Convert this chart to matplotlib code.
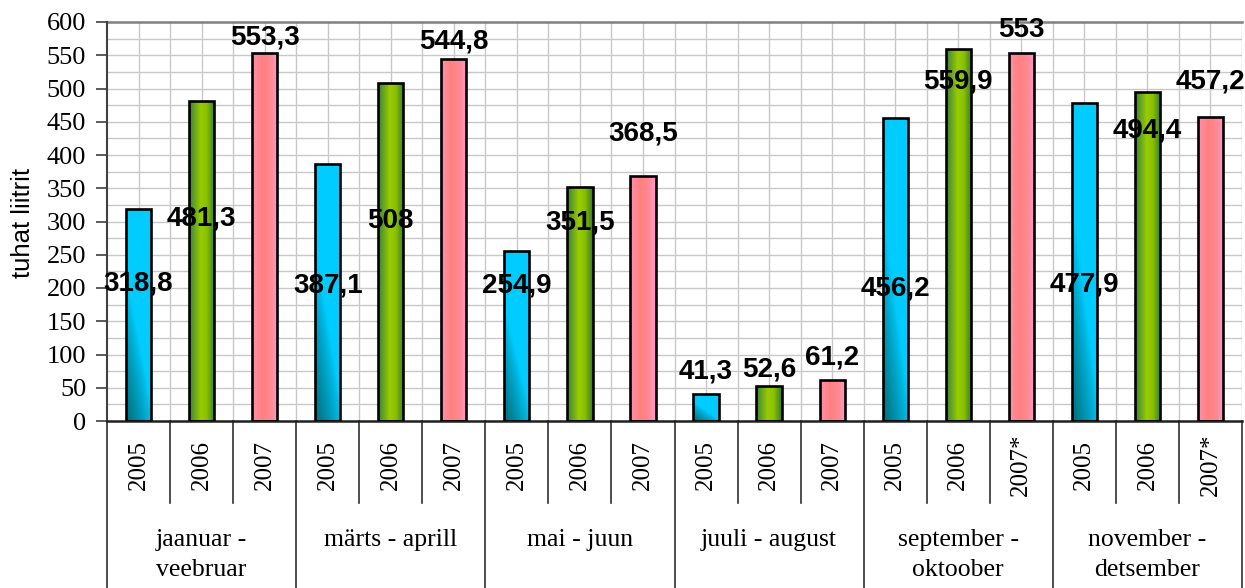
import numpy as np
import matplotlib
matplotlib.use("Agg")
import matplotlib.pyplot as plt
from matplotlib.colors import to_rgb
from matplotlib.transforms import blended_transform_factory

# ---------------- data ----------------
groups = ["jaanuar -\nveebruar", "märts - aprill", "mai - juun",
          "juuli - august", "september -\noktoober", "november -\ndetsember"]
year_labels = ["2005", "2006", "2007", "2005", "2006", "2007",
               "2005", "2006", "2007", "2005", "2006", "2007",
               "2005", "2006", "2007*", "2005", "2006", "2007*"]
values_2005 = [318.8, 387.1, 254.9, 41.3, 456.2, 477.9]
values_2006 = [481.3, 508.0, 351.5, 52.6, 559.9, 494.4]
values_2007 = [553.3, 544.8, 368.5, 61.2, 553.0, 457.2]
# vertical centre of each data label (value units), as placed in the original
label_y_2005 = [207, 204, 204, 74, 199, 205]
label_y_2006 = [305, 301, 299, 78, 510, 437]
label_y_2007 = [576, 570, 433, 96, 588, 510]
y_ticks = list(range(0, 601, 50))

SERIF = "Liberation Serif"
SANS = "Liberation Sans"

fig = plt.figure(figsize=(12.45, 5.88), dpi=100)
ax = fig.add_axes([107/1245, 1-421/588, (1242-107)/1245, 399/588])

n_groups = len(groups)
series = [values_2005, values_2006, values_2007]
label_ys = [label_y_2005, label_y_2006, label_y_2007]
n_cat = n_groups * 3

ax.set_xlim(-0.5, n_cat - 0.5)
ax.set_ylim(0, 600)

# grid
for yv in np.arange(25, 600, 25):
    ax.axhline(yv, color="#c8c8c8", lw=1.0, zorder=0)
for xv in np.arange(0, n_cat, 0.5):
    ax.axvline(xv, color="#c8c8c8", lw=1.0, zorder=0)
ax.axhline(600, color="#808080", lw=1.8, zorder=1, clip_on=False)

def interp_cols(stops, u):
    pos = np.array([s[0] for s in stops])
    cols = np.array([to_rgb(s[1]) for s in stops])
    out = np.zeros(u.shape + (3,))
    for c in range(3):
        out[..., c] = np.interp(u, pos, cols[:, c])
    return out

N = 80
uu, vv = np.meshgrid(np.linspace(0, 1, N), np.linspace(0, 1, N))

def grad_cyan():
    dark = np.clip(1.1 - (uu + 1.6 * vv), 0, 1) ** 0.8
    teal = np.array(to_rgb("#007484"))
    cyan = np.array(to_rgb("#00ccff"))
    return cyan * (1 - dark[..., None]) + teal * dark[..., None]

def grad_green():
    return interp_cols([(0, "#3a8040"), (0.45, "#99cc00"), (0.7, "#88c000"), (1, "#347a30")], uu)

def grad_pink():
    return interp_cols([(0, "#ff90ac"), (0.4, "#ff8080"), (0.7, "#ff8890"), (1, "#ff99cc")], uu)

grads = [grad_cyan(), grad_green(), grad_pink()]

for s in range(3):
    xs = [g * 3 + s for g in range(n_groups)]
    bars = ax.bar(xs, series[s], width=0.4, facecolor="none",
                  edgecolor="black", linewidth=1.9, zorder=3)
    for b in bars:
        x0 = b.get_x()
        w = b.get_width()
        h = b.get_height()
        im = ax.imshow(grads[s], extent=(x0, x0 + w, 0, h), origin="lower",
                       aspect="auto", zorder=2, interpolation="bilinear")
        im.set_clip_path(b)
    for g in range(n_groups):
        v = series[s][g]
        txt = f"{v:g}".replace(".", ",")
        ax.text(xs[g], label_ys[s][g], txt, ha="center", va="center",
                fontsize=20, fontweight="bold", family=SANS, zorder=5)

ax.set_xlim(-0.5, n_cat - 0.5)
ax.set_ylim(0, 600)

# axes styling
ax.set_xticks([])
ax.set_yticks(y_ticks)
ax.set_yticklabels([str(t) for t in y_ticks], family=SERIF, fontsize=19)
ax.tick_params(axis="y", direction="out", length=8, width=1.2, color="#404040", pad=7)
ax.spines["right"].set_visible(False)
ax.spines["top"].set_visible(False)
ax.spines["left"].set_color("#404040")
ax.spines["left"].set_linewidth(1.5)
ax.spines["bottom"].set_color("#202020")
ax.spines["bottom"].set_linewidth(1.8)
ax.set_ylabel("tuhat liitrit", family=SANS, fontsize=18.5)
ax.yaxis.set_label_coords((23 - 107) / 1135, 0.496)
ax.yaxis.label.set_va("center")

# category table below the axis
trans = blended_transform_factory(ax.transData, ax.transAxes)
sep_low = -(503 - 421) / 399
for k in range(n_cat + 1):
    xv = k - 0.5
    if k % 3 == 0:
        ax.plot([xv, xv], [0, -0.5], transform=trans, color="#303030",
                lw=1.2, clip_on=False, zorder=1)
    else:
        ax.plot([xv, xv], [0, sep_low], transform=trans, color="#303030",
                lw=1.2, clip_on=False, zorder=1)
for k, lab in enumerate(year_labels):
    ax.text(k, -(465 - 421) / 399, lab, transform=trans, rotation=90,
            ha="center", va="center", family=SERIF, fontsize=18)
for g, lab in enumerate(groups):
    ax.text(g * 3 + 1, -(529 - 421) / 399, lab, transform=trans,
            ha="center", va="top", multialignment="center",
            family=SERIF, fontsize=18.5, linespacing=1.45)

fig.savefig("out.png", dpi=100)
